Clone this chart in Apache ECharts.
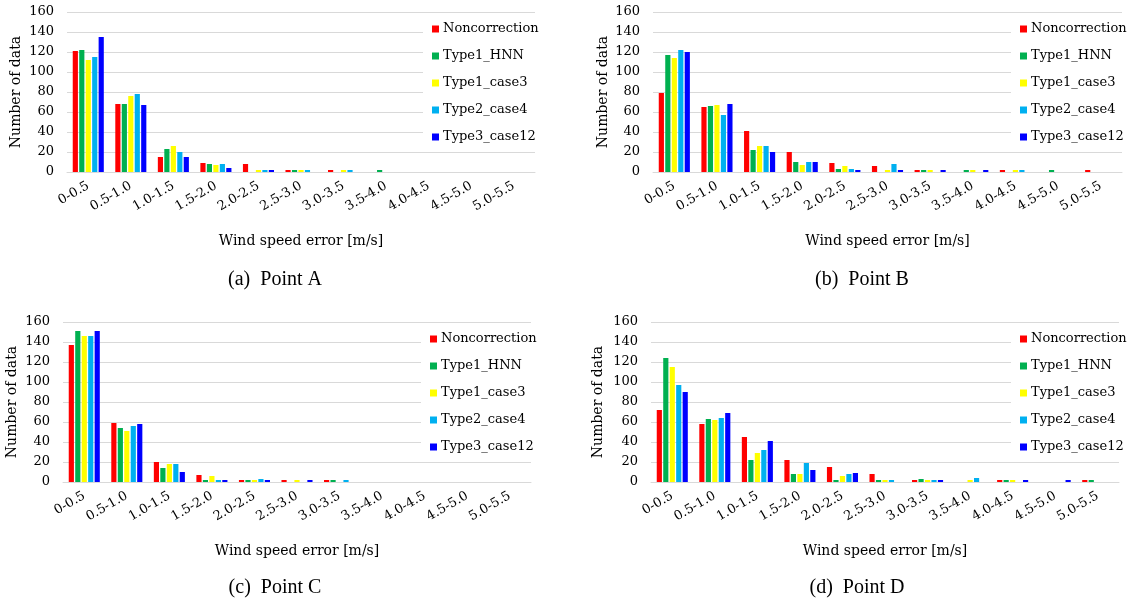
<!DOCTYPE html>
<html>
<head>
<meta charset="utf-8">
<script src="https://cdn.jsdelivr.net/npm/echarts@6/dist/echarts.min.js"></script>
<style>
html,body{margin:0;padding:0;background:#fff;}
#chart{width:1127px;height:603px;}
</style>
</head>
<body>
<div id="chart"></div>
<script>
const categories = ['0-0.5','0.5-1.0','1.0-1.5','1.5-2.0','2.0-2.5','2.5-3.0','3.0-3.5','3.5-4.0','4.0-4.5','4.5-5.0','5.0-5.5'];
const seriesNames = ['Noncorrection','Type1_HNN','Type1_case3','Type2_case4','Type3_case12'];
const yTicks = [0,20,40,60,80,100,120,140,160];
const captions = ['(a)  Point A','(b)  Point B','(c)  Point C','(d)  Point D'];
const xAxisTitle = 'Wind speed error [m/s]';
const yAxisTitle = 'Number of data';

// Point A
const pointA_Noncorrection = [121, 68, 15, 9, 8, 2, 2, 0, 0, 0, 0];
const pointA_Type1_HNN     = [122, 68, 23, 8, 0, 2, 0, 2, 0, 0, 0];
const pointA_Type1_case3   = [112, 76, 26, 7, 2, 2, 2, 0, 0, 0, 0];
const pointA_Type2_case4   = [115, 78, 20, 8, 2, 2, 2, 0, 0, 0, 0];
const pointA_Type3_case12  = [135, 67, 15, 4, 2, 0, 0, 0, 0, 0, 0];
// Point B
const pointB_Noncorrection = [79, 65, 41, 20, 9, 6, 2, 0, 2, 0, 2];
const pointB_Type1_HNN     = [117, 66, 22, 10, 3, 0, 2, 2, 0, 2, 0];
const pointB_Type1_case3   = [114, 67, 26, 7, 6, 2, 2, 2, 2, 0, 0];
const pointB_Type2_case4   = [122, 57, 26, 10, 3, 8, 0, 0, 2, 0, 0];
const pointB_Type3_case12  = [120, 68, 20, 10, 2, 2, 2, 2, 0, 0, 0];
// Point C
const pointC_Noncorrection = [137, 59, 20, 7, 2, 2, 2, 0, 0, 0, 0];
const pointC_Type1_HNN     = [151, 54, 14, 2, 2, 0, 2, 0, 0, 0, 0];
const pointC_Type1_case3   = [146, 51, 18, 6, 2, 2, 0, 0, 0, 0, 0];
const pointC_Type2_case4   = [146, 56, 18, 2, 3, 0, 2, 0, 0, 0, 0];
const pointC_Type3_case12  = [151, 58, 10, 2, 2, 2, 0, 0, 0, 0, 0];
// Point D
const pointD_Noncorrection = [72, 58, 45, 22, 15, 8, 2, 0, 2, 0, 2];
const pointD_Type1_HNN     = [124, 63, 22, 8, 2, 2, 3, 0, 2, 0, 2];
const pointD_Type1_case3   = [115, 62, 29, 8, 6, 2, 2, 2, 2, 0, 0];
const pointD_Type2_case4   = [97, 64, 32, 19, 8, 2, 2, 4, 0, 0, 0];
const pointD_Type3_case12  = [90, 69, 41, 12, 9, 0, 2, 0, 2, 2, 0];

const panels = [
  [pointA_Noncorrection, pointA_Type1_HNN, pointA_Type1_case3, pointA_Type2_case4, pointA_Type3_case12],
  [pointB_Noncorrection, pointB_Type1_HNN, pointB_Type1_case3, pointB_Type2_case4, pointB_Type3_case12],
  [pointC_Noncorrection, pointC_Type1_HNN, pointC_Type1_case3, pointC_Type2_case4, pointC_Type3_case12],
  [pointD_Noncorrection, pointD_Type1_HNN, pointD_Type1_case3, pointD_Type2_case4, pointD_Type3_case12]
];

const colors = ['#FF0000','#00B050','#FFFF00','#00B0F0','#0000FF'];
const serif = '"DejaVu Serif", serif';

const gridPos = [
  {left: 67, top: 12, width: 468, height: 160},
  {left: 653, top: 12, width: 469, height: 160},
  {left: 63, top: 322, width: 468, height: 160},
  {left: 651, top: 322, width: 468, height: 160}
];
const legendPos = [
  {left: 423, top: 15},
  {left: 1011, top: 15},
  {left: 421, top: 325},
  {left: 1011, top: 325}
];
const captionPos = [[275, 280], [862, 280], [275, 588], [857, 588]];
const yNameGap = [44, 43, 44, 46];

const option = {
  animation: false,
  backgroundColor: '#fff',
  grid: gridPos.map(g => Object.assign({containLabel: false}, g)),
  xAxis: gridPos.map((g, i) => ({
    type: 'category',
    gridIndex: i,
    data: categories,
    name: xAxisTitle,
    nameLocation: 'middle',
    nameGap: 62,
    nameTextStyle: {fontFamily: serif, fontSize: 14, color: '#000'},
    axisLine: {show: true, lineStyle: {color: '#d9d9d9', width: 1}},
    axisTick: {show: false},
    axisLabel: {rotate: 30, margin: 13, fontFamily: serif, fontSize: 13, color: '#000', interval: 0}
  })),
  yAxis: gridPos.map((g, i) => ({
    type: 'value',
    gridIndex: i,
    min: 0, max: 160, interval: 20,
    name: yAxisTitle,
    nameLocation: 'middle',
    nameGap: yNameGap[i],
    nameTextStyle: {fontFamily: serif, fontSize: 14, color: '#000'},
    axisLine: {show: false},
    axisTick: {show: false},
    axisLabel: {margin: 13, fontFamily: serif, fontSize: 13, color: '#000',
      formatter: v => (yTicks.indexOf(v) >= 0 ? String(v) : '')},
    splitLine: {show: true, lineStyle: {color: '#d9d9d9', width: 1}}
  })),
  legend: legendPos.map(p => ({
    orient: 'vertical',
    left: p.left, top: p.top,
    data: seriesNames,
    itemWidth: 7, itemHeight: 7,
    itemGap: 13,
    icon: 'rect',
    backgroundColor: '#fff',
    padding: [7, 4, 6, 9],
    selectedMode: false,
    textStyle: {fontFamily: serif, fontSize: 13, color: '#000', lineHeight: 14, padding: [0, 0, 0, -1]}
  })),
  series: [],
  graphic: captions.map((c, i) => ({
    type: 'text',
    x: captionPos[i][0], y: captionPos[i][1],
    style: {text: c, font: '20px "Liberation Serif", serif', fill: '#000', textAlign: 'center', textVerticalAlign: 'middle'}
  }))
};

panels.forEach((arrs, pi) => {
  arrs.forEach((arr, si) => {
    option.series.push({
      type: 'bar',
      name: seriesNames[si],
      xAxisIndex: pi,
      yAxisIndex: pi,
      data: arr,
      itemStyle: {color: colors[si]},
      barGap: '25%',
      barCategoryGap: '27%'
    });
  });
});

const chart = echarts.init(document.getElementById('chart'), null, {renderer: 'canvas'});
chart.setOption(option);
</script>
</body>
</html>
